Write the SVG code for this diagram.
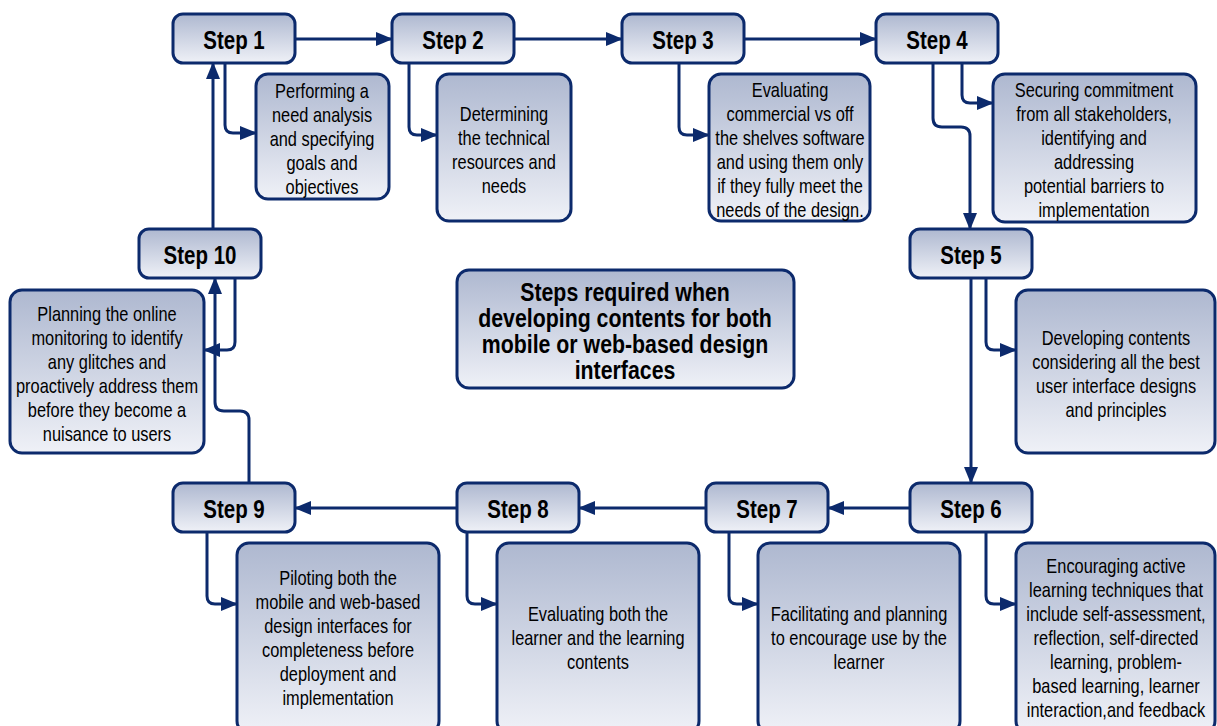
<svg xmlns="http://www.w3.org/2000/svg" width="1217" height="726" viewBox="0 0 1217 726">
<defs>
<linearGradient id="g" x1="0" y1="0" x2="0" y2="1">
<stop offset="0" stop-color="#aeb8d0"/>
<stop offset="1" stop-color="#eff1f7"/>
</linearGradient>
<marker id="ah" markerUnits="userSpaceOnUse" markerWidth="18" markerHeight="14" refX="16" refY="7" orient="auto">
<path d="M0,0 L17,7 L0,14 Z" fill="#0c2a6c"/>
</marker>
<style>
.box{fill:url(#g);stroke:#0c2a6c;stroke-width:3}
text{font-family:"Liberation Sans",Arial,sans-serif;fill:#000;text-anchor:middle;dominant-baseline:central}
.st{font-weight:bold;font-size:25px}
.tx{font-size:20px}
.tt{font-weight:bold;font-size:26px}
.c{fill:none;stroke:#0c2a6c;stroke-width:3;marker-end:url(#ah)}
</style>
</defs>
<rect width="1217" height="726" fill="#fff"/>
<g id="connectors">
<path class="c" d="M295,39 H392"/>
<path class="c" d="M514,39 H622"/>
<path class="c" d="M744,39 H876"/>
<path class="c" d="M225,63 V125 Q225,133 233,133 H256"/>
<path class="c" d="M409,63 V127 Q409,135 417,135 H437"/>
<path class="c" d="M679,63 V127 Q679,135 687,135 H709"/>
<path class="c" d="M962,63 V95 Q962,103 970,103 H993"/>
<path class="c" d="M933,63 V118 Q933,127 942,127 H961 Q970,127 970,136 V229"/>
<path class="c" d="M971,278 V483"/>
<path class="c" d="M986,278 V342 Q986,350 994,350 H1016"/>
<path class="c" d="M986,532 V596 Q986,604 994,604 H1016"/>
<path class="c" d="M910,508 H828"/>
<path class="c" d="M706,508 H579"/>
<path class="c" d="M457,508 H295"/>
<path class="c" d="M729,532 V596 Q729,604 737,604 H758"/>
<path class="c" d="M467,532 V596 Q467,604 475,604 H497"/>
<path class="c" d="M207,532 V596 Q207,604 215,604 H237"/>
<path class="c" d="M249,483 V420 Q249,411 240,411 H224 Q215,411 215,402 V278"/>
<path class="c" d="M235,278 V342 Q235,350 227,350 H204"/>
<path class="c" d="M213,229 V63"/>
</g>
<g id="title">
<rect class="box" x="457" y="270" width="337" height="118" rx="12"/>
<text class="tt" transform="translate(625,292) scale(0.82,1)">Steps required when</text>
<text class="tt" transform="translate(625,318) scale(0.82,1)">developing contents for both</text>
<text class="tt" transform="translate(625,344) scale(0.82,1)">mobile or web-based design</text>
<text class="tt" transform="translate(625,370) scale(0.82,1)">interfaces</text>
</g>
<g id="step1"><rect class="box" x="173" y="14" width="122" height="49" rx="10"/><text class="st" transform="translate(234,40) scale(0.82,1)">Step 1</text></g>
<g id="step2"><rect class="box" x="392" y="14" width="122" height="49" rx="10"/><text class="st" transform="translate(453,40) scale(0.82,1)">Step 2</text></g>
<g id="step3"><rect class="box" x="622" y="14" width="122" height="49" rx="10"/><text class="st" transform="translate(683,40) scale(0.82,1)">Step 3</text></g>
<g id="step4"><rect class="box" x="876" y="14" width="122" height="49" rx="10"/><text class="st" transform="translate(937,40) scale(0.82,1)">Step 4</text></g>
<g id="step5"><rect class="box" x="910" y="229" width="122" height="49" rx="10"/><text class="st" transform="translate(971,255) scale(0.82,1)">Step 5</text></g>
<g id="step6"><rect class="box" x="910" y="483" width="122" height="49" rx="10"/><text class="st" transform="translate(971,509) scale(0.82,1)">Step 6</text></g>
<g id="step7"><rect class="box" x="706" y="483" width="122" height="49" rx="10"/><text class="st" transform="translate(767,509) scale(0.82,1)">Step 7</text></g>
<g id="step8"><rect class="box" x="457" y="483" width="122" height="49" rx="10"/><text class="st" transform="translate(518,509) scale(0.82,1)">Step 8</text></g>
<g id="step9"><rect class="box" x="173" y="483" width="122" height="49" rx="10"/><text class="st" transform="translate(234,509) scale(0.82,1)">Step 9</text></g>
<g id="step10"><rect class="box" x="139" y="229" width="122" height="49" rx="10"/><text class="st" transform="translate(200,255) scale(0.82,1)">Step 10</text></g>
<g id="desc1"><rect class="box" x="256" y="74" width="133" height="125" rx="12"/>
<text class="tx" transform="translate(322,91) scale(0.82,1)">Performing a</text><text class="tx" transform="translate(322,115) scale(0.82,1)">need analysis</text><text class="tx" transform="translate(322,139) scale(0.82,1)">and specifying</text><text class="tx" transform="translate(322,163) scale(0.82,1)">goals and</text><text class="tx" transform="translate(322,187) scale(0.82,1)">objectives</text></g>
<g id="desc2"><rect class="box" x="437" y="74" width="134" height="147" rx="12"/>
<text class="tx" transform="translate(504,114) scale(0.82,1)">Determining</text><text class="tx" transform="translate(504,138) scale(0.82,1)">the technical</text><text class="tx" transform="translate(504,162) scale(0.82,1)">resources and</text><text class="tx" transform="translate(504,186) scale(0.82,1)">needs</text></g>
<g id="desc3"><rect class="box" x="709" y="74" width="161" height="147" rx="12"/>
<text class="tx" transform="translate(790,90) scale(0.82,1)">Evaluating</text><text class="tx" transform="translate(790,114) scale(0.82,1)">commercial vs off</text><text class="tx" transform="translate(790,138) scale(0.82,1)">the shelves software</text><text class="tx" transform="translate(790,162) scale(0.82,1)">and using them only</text><text class="tx" transform="translate(790,186) scale(0.82,1)">if they fully meet the</text><text class="tx" transform="translate(790,210) scale(0.82,1)">needs of the design.</text></g>
<g id="desc4"><rect class="box" x="993" y="74" width="203" height="148" rx="12"/>
<text class="tx" transform="translate(1094,90) scale(0.82,1)">Securing commitment</text><text class="tx" transform="translate(1094,114) scale(0.82,1)">from all stakeholders,</text><text class="tx" transform="translate(1094,138) scale(0.82,1)">identifying and</text><text class="tx" transform="translate(1094,162) scale(0.82,1)">addressing</text><text class="tx" transform="translate(1094,186) scale(0.82,1)">potential barriers to</text><text class="tx" transform="translate(1094,210) scale(0.82,1)">implementation</text></g>
<g id="desc5"><rect class="box" x="1016" y="290" width="199" height="163" rx="12"/>
<text class="tx" transform="translate(1116,338) scale(0.82,1)">Developing contents</text><text class="tx" transform="translate(1116,362) scale(0.82,1)">considering all the best</text><text class="tx" transform="translate(1116,386) scale(0.82,1)">user interface designs</text><text class="tx" transform="translate(1116,410) scale(0.82,1)">and principles</text></g>
<g id="desc6"><rect class="box" x="1016" y="543" width="199" height="190" rx="12"/>
<text class="tx" transform="translate(1116,566) scale(0.82,1)">Encouraging active</text><text class="tx" transform="translate(1116,590) scale(0.82,1)">learning techniques that</text><text class="tx" transform="translate(1116,614) scale(0.82,1)">include self-assessment,</text><text class="tx" transform="translate(1116,638) scale(0.82,1)">reflection, self-directed</text><text class="tx" transform="translate(1116,662) scale(0.82,1)">learning, problem-</text><text class="tx" transform="translate(1116,686) scale(0.82,1)">based learning, learner</text><text class="tx" transform="translate(1116,710) scale(0.82,1)">interaction,and feedback</text></g>
<g id="desc7"><rect class="box" x="758" y="543" width="202" height="190" rx="12"/>
<text class="tx" transform="translate(859,614) scale(0.82,1)">Facilitating and planning</text><text class="tx" transform="translate(859,638) scale(0.82,1)">to encourage use by the</text><text class="tx" transform="translate(859,662) scale(0.82,1)">learner</text></g>
<g id="desc8"><rect class="box" x="497" y="543" width="202" height="190" rx="12"/>
<text class="tx" transform="translate(598,614) scale(0.82,1)">Evaluating both the</text><text class="tx" transform="translate(598,638) scale(0.82,1)">learner and the learning</text><text class="tx" transform="translate(598,662) scale(0.82,1)">contents</text></g>
<g id="desc9"><rect class="box" x="237" y="543" width="202" height="190" rx="12"/>
<text class="tx" transform="translate(338,578) scale(0.82,1)">Piloting both the</text><text class="tx" transform="translate(338,602) scale(0.82,1)">mobile and web-based</text><text class="tx" transform="translate(338,626) scale(0.82,1)">design interfaces for</text><text class="tx" transform="translate(338,650) scale(0.82,1)">completeness before</text><text class="tx" transform="translate(338,674) scale(0.82,1)">deployment and</text><text class="tx" transform="translate(338,698) scale(0.82,1)">implementation</text></g>
<g id="desc10"><rect class="box" x="10" y="290" width="194" height="163" rx="12"/>
<text class="tx" transform="translate(107,314) scale(0.82,1)">Planning the online</text><text class="tx" transform="translate(107,338) scale(0.82,1)">monitoring to identify</text><text class="tx" transform="translate(107,362) scale(0.82,1)">any glitches and</text><text class="tx" transform="translate(107,386) scale(0.82,1)">proactively address them</text><text class="tx" transform="translate(107,410) scale(0.82,1)">before they become a</text><text class="tx" transform="translate(107,434) scale(0.82,1)">nuisance to users</text></g>
</svg>
